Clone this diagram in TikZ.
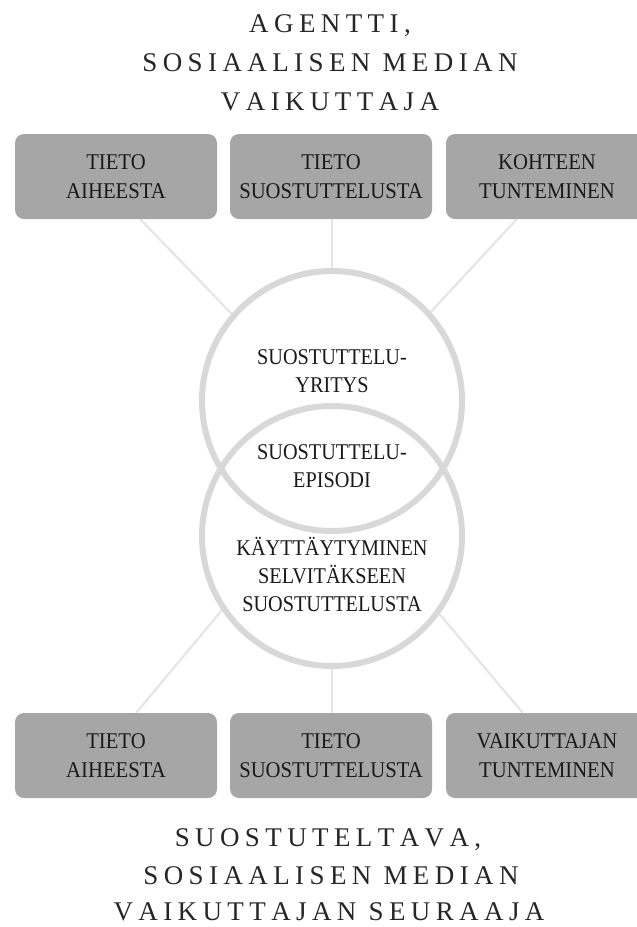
\documentclass[tikz,border=0pt]{standalone}
\usepackage{fontspec}
\setmainfont{Liberation Serif}
\newfontfamily\titlefont[LetterSpace=20,Kerning=Off]{Liberation Serif}
\newfontfamily\boxfont[FakeStretch=0.92]{Liberation Serif}
\newfontfamily\ringfont[FakeStretch=0.90]{Liberation Serif}
\usetikzlibrary{backgrounds,calc}
\definecolor{boxgray}{RGB}{166,166,166}
\definecolor{ringgray}{RGB}{216,216,216}
\definecolor{spokegray}{RGB}{229,229,229}
\definecolor{titletext}{RGB}{38,38,38}
\definecolor{boxtext}{RGB}{25,25,25}
\tikzset{
  titleline/.style={anchor=base, inner sep=0pt, text=titletext,
    font={\titlefont\fontsize{27}{39}\selectfont}},
  infobox/.style={rectangle, rounded corners=9pt, fill=boxgray,
    minimum width=202pt, minimum height=85pt, inner sep=0pt,
    align=center, text=boxtext, font={\boxfont\fontsize{22.5}{28.5}\selectfont}},
  ring/.style={circle, draw=ringgray, line width=6pt, minimum size=260pt, inner sep=0pt},
  ringtext/.style={align=center, inner sep=0pt, text=boxtext,
    font={\ringfont\fontsize{22.5}{28}\selectfont}},
  spoke/.style={draw=spokegray, line width=2.2pt}
}
\begin{document}
\begin{tikzpicture}[x=1pt,y=-1pt]
\useasboundingbox (0,0) rectangle (637,927);
\clip (0,0) rectangle (637,927);

% top title
\node[titleline] (tt1) at (330,32) {AGENTTI,};
\node[titleline] (tt2) at (330,71) {SOSIAALISEN MEDIAN};
\node[titleline] (tt3) at (330,110) {VAIKUTTAJA};

% top boxes
\node[infobox] (b1) at (116,176.5) {TIETO\\AIHEESTA};
\node[infobox] (b2) at (331,176.5) {TIETO\\SUOSTUTTELUSTA};
\node[infobox] (b3) at (547,176.5) {KOHTEEN\\TUNTEMINEN};

% circles
\node[ring] (c1) at (332,401) {};
\node[ring] (c2) at (332,536) {};

\node[ringtext] (r1) at (332,371) {SUOSTUTTELU-\\YRITYS};
\node[ringtext] (r2) at (332,466) {SUOSTUTTELU-\\EPISODI};
\node[ringtext] (r3) at (332,574.5) {KÄYTTÄYTYMINEN\\SELVITÄKSEEN\\SUOSTUTTELUSTA};

% bottom boxes
\node[infobox] (d1) at (116,755.5) {TIETO\\AIHEESTA};
\node[infobox] (d2) at (331,755.5) {TIETO\\SUOSTUTTELUSTA};
\node[infobox] (d3) at (547,755.5) {VAIKUTTAJAN\\TUNTEMINEN};

% bottom title
\node[titleline] (bt1) at (328,846) {SUOSTUTELTAVA,};
\node[titleline] (bt2) at (331,884) {SOSIAALISEN MEDIAN};
\node[titleline] (bt3) at (329,920) {VAIKUTTAJAN SEURAAJA};

% spokes
\begin{scope}[on background layer]
\draw[spoke] ($(b1.south west)!0.62!(b1.south east)$) -- (c1.139);
\draw[spoke] (b2.south -| c1.north) -- (c1.north);
\draw[spoke] ($(b3.south west)!0.35!(b3.south east)$) -- (c1.42);
\draw[spoke] (c2.214.5) -- ($(d1.north west)!0.60!(d1.north east)$);
\draw[spoke] (c2.south) -- (d2.north -| c2.south);
\draw[spoke] (c2.324.3) -- ($(d3.north west)!0.38!(d3.north east)$);
\end{scope}
\end{tikzpicture}
\end{document}
